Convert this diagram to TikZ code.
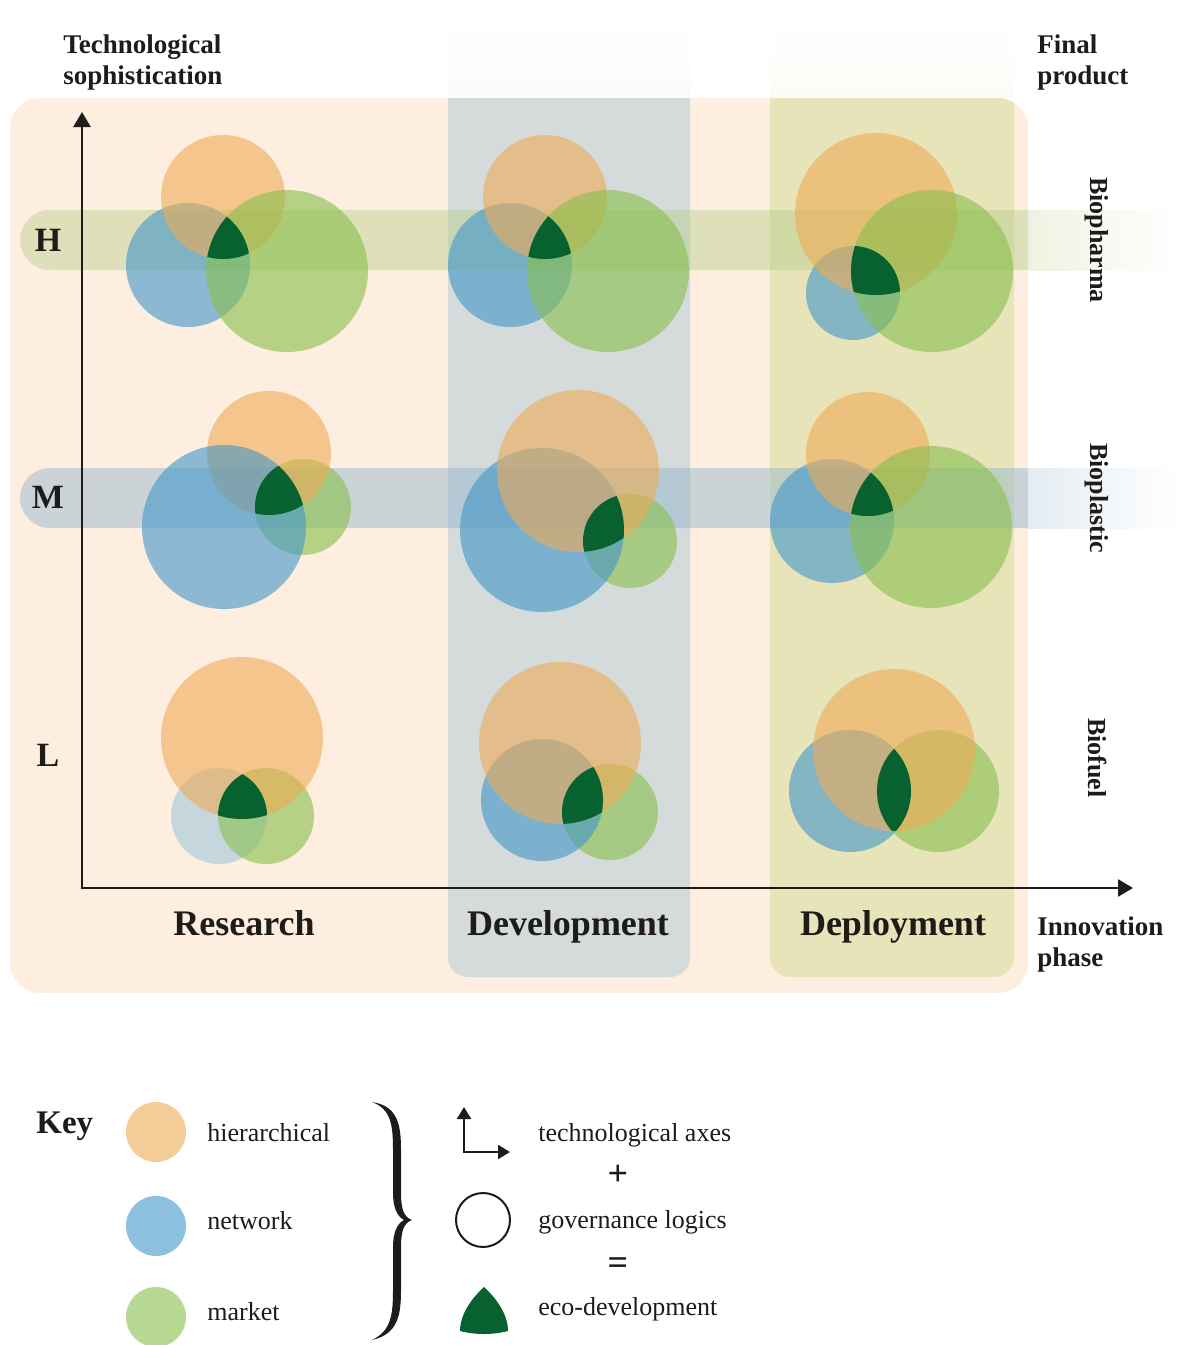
\documentclass[tikz,border=0pt]{standalone}
\usepackage{fontspec}
\setmainfont{Liberation Serif}
\usepackage{tikz}
\usetikzlibrary{arrows.meta, positioning}
\definecolor{peachbg}{HTML}{FDEEDF}
\definecolor{hierorange}{RGB}{238,171,85}
\definecolor{netblue}{RGB}{65,150,201}
\definecolor{netpale}{RGB}{160,198,221}
\definecolor{mktgreen}{RGB}{136,191,76}
\definecolor{ecogreen}{RGB}{8,98,48}
\definecolor{devshade}{RGB}{212,219,218}
\definecolor{depshade}{RGB}{231,228,186}
\definecolor{bandhigh}{RGB}{183,207,138}
\definecolor{bandmid}{RGB}{143,180,204}
\definecolor{inkblack}{RGB}{30,27,25}

% eco-development = overlap of the three governance logics
\newcommand{\ecozone}[6]{%
  \begin{scope}
    \clip (#1) circle (#2);
    \clip (#3) circle (#4);
    \fill[ecofill] (#5) circle (#6);
  \end{scope}}

\begin{document}
\begin{tikzpicture}[
    x=0.5pt, y=0.5pt,
    hierfill/.style={fill=hierorange, fill opacity=0.6},
    netfill/.style={fill=netblue, fill opacity=0.6},
    mktfill/.style={fill=mktgreen, fill opacity=0.6},
    ecofill/.style={fill=ecogreen},
    axis/.style={{Triangle[length=7.5pt,width=8.5pt]}-{Triangle[length=7.5pt,width=8.5pt]},
                 line width=1.3pt, draw=inkblack},
    axislabel/.style={font=\fontsize{13.5}{15.5}\selectfont\bfseries, align=left,
                      anchor=north west, inner sep=0pt, text=inkblack},
    level/.style={font=\fontsize{17}{20}\selectfont\bfseries, text=inkblack},
    product/.style={font=\fontsize{13}{15}\selectfont\bfseries, text=inkblack, rotate=-90},
    phase/.style={font=\fontsize{18}{20}\selectfont\bfseries, text=inkblack, anchor=base},
    keytext/.style={font=\fontsize{13}{15}\selectfont, text=inkblack, anchor=base west, inner sep=0pt},
    keydot/.style={circle, minimum size=30pt, inner sep=0pt, fill opacity=0.6}
]
\useasboundingbox (0,0) rectangle (1179,-1345);

% Background panel and phase columns
\shade[top color=white, bottom color=devshade!12!white] (448,-20) rectangle (690,-98);
\shade[top color=white, bottom color=depshade!12!white] (770,-20) rectangle (1014,-98);
\begin{scope}
  \clip[rounded corners=15pt] (10,-98) rectangle (1028,-993);
  \fill[peachbg] (10,-98) rectangle (1028,-993);
  \fill[devshade, rounded corners=10pt] (448,-60) rectangle (690,-977);
  \fill[depshade, rounded corners=10pt] (770,-60) rectangle (1014,-977);
\end{scope}

% Sophistication bands
\fill[bandhigh, fill opacity=0.45] (1028,-210) -- (50,-210) arc[start angle=90, end angle=270, radius=30] -- (1028,-270) -- cycle;
\shade[left color=bandhigh!25!white, right color=white] (1028,-210) rectangle (1179,-270);
\fill[bandmid, fill opacity=0.45] (1028,-468) -- (50,-468) arc[start angle=90, end angle=270, radius=30] -- (1028,-528) -- cycle;
\shade[left color=bandmid!25!white, right color=white] (1028,-468) rectangle (1179,-528);

% Axes
\coordinate (origin) at (82,-888);
\coordinate (ytop) at (82,-112);
\coordinate (xend) at (1133,-888);
\draw[axis] (ytop) -- (origin) -- (xend);

% H -- biopharma
\fill[netfill] (188,-265) circle (62);
\fill[hierfill] (223,-197) circle (62);
\fill[mktfill] (287,-271) circle (81);
\ecozone{188,-265}{62}{223,-197}{62}{287,-271}{81}

\fill[netfill] (510,-265) circle (62);
\fill[hierfill] (545,-197) circle (62);
\fill[mktfill] (608,-271) circle (81);
\ecozone{510,-265}{62}{545,-197}{62}{608,-271}{81}

\fill[netfill] (853,-293) circle (47);
\fill[hierfill] (876,-214) circle (81);
\fill[mktfill] (932,-271) circle (81);
\ecozone{853,-293}{47}{876,-214}{81}{932,-271}{81}

% M -- bioplastic
\fill[mktfill] (303,-507) circle (48);
\fill[hierfill] (269,-453) circle (62);
\fill[netfill] (224,-527) circle (82);
\ecozone{303,-507}{48}{269,-453}{62}{224,-527}{82}

\fill[mktfill] (630,-541) circle (47);
\fill[netfill] (542,-530) circle (82);
\fill[hierfill] (578,-471) circle (81);
\ecozone{630,-541}{47}{542,-530}{82}{578,-471}{81}

\fill[netfill] (832,-521) circle (62);
\fill[hierfill] (868,-454) circle (62);
\fill[mktfill] (931,-527) circle (81);
\ecozone{832,-521}{62}{868,-454}{62}{931,-527}{81}

% L -- biofuel
\fill[netfill, fill=netpale] (219,-816) circle (48);
\fill[mktfill] (266,-816) circle (48);
\fill[hierfill] (242,-738) circle (81);
\ecozone{219,-816}{48}{266,-816}{48}{242,-738}{81}

\fill[mktfill] (610,-812) circle (48);
\fill[netfill] (542,-800) circle (61);
\fill[hierfill] (560,-743) circle (81);
\ecozone{610,-812}{48}{542,-800}{61}{560,-743}{81}

\fill[netfill] (850,-791) circle (61);
\fill[mktfill] (938,-791) circle (61);
\fill[hierfill] (894,-750) circle (81);
\ecozone{850,-791}{61}{938,-791}{61}{894,-750}{81}

% Labels
\node[axislabel] (soph) at (63,-34) {Technological\\sophistication};
\node[axislabel] (final) at (1037,-34) {Final\\product};
\node[axislabel] (innov) at (1037,-916) {Innovation\\phase};
\node[level] (lvlH) at (48,-240) {H};
\node[level] (lvlM) at (48,-497) {M};
\node[level] (lvlL) at (48,-755) {L};
\node[product] (pharma) at (1097,-240) {Biopharma};
\node[product] (plastic) at (1097,-498) {Bioplastic};
\node[product] (fuel) at (1097,-758) {Biofuel};
\node[phase] (research) at (244,-935) {Research};
\node[phase] (develop) at (568,-935) {Development};
\node[phase] (deploy) at (893,-935) {Deployment};

% Key
\node[keytext, font=\fontsize{16.5}{18}\selectfont\bfseries] (key) at (36,-1133) {Key};
\node[keydot, fill=hierorange] (khier) at (156,-1132) {};
\node[keydot, fill=netblue] (knet) at (156,-1226) {};
\node[keydot, fill=mktgreen] (kmkt) at (156,-1317) {};
\node[keytext] (thier) at (207,-1141) {hierarchical};
\node[keytext] (tnet) at (207,-1229) {network};
\node[keytext] (tmkt) at (207,-1320) {market};

\fill[inkblack] (372,-1102) .. controls (398,-1106) and (401,-1125) .. (401,-1150) -- (401,-1192)
  .. controls (401,-1210) and (404,-1217) .. (412,-1220)
  .. controls (404,-1223) and (401,-1230) .. (401,-1248) -- (401,-1290)
  .. controls (401,-1315) and (398,-1334) .. (372,-1340)
  .. controls (391,-1331) and (393,-1315) .. (393,-1290) -- (393,-1248)
  .. controls (393,-1232) and (397,-1224) .. (404,-1220)
  .. controls (397,-1216) and (393,-1208) .. (393,-1192) -- (393,-1150)
  .. controls (393,-1125) and (391,-1109) .. (372,-1102) -- cycle;

\coordinate (kcorner) at (464,-1152);
\coordinate (kup) at (464,-1107);
\coordinate (kright) at (510,-1152);
\draw[{Triangle[length=6pt,width=7pt]}-{Triangle[length=6pt,width=7pt]}, line width=1.1pt, draw=inkblack]
  (kup) -- (kcorner) -- (kright);
\node[circle, draw=inkblack, line width=1pt, minimum size=27pt, inner sep=0pt] (kgov) at (483,-1220) {};
\fill[ecofill] (484,-1287) .. controls (496,-1298) and (508,-1314) .. (508,-1331)
  .. controls (492,-1335) and (476,-1335) .. (460,-1331)
  .. controls (460,-1314) and (472,-1298) .. (484,-1287) -- cycle;

\node[keytext] (taxes) at (538,-1141) {technological axes};
\node[keytext] (tgov) at (538,-1228) {governance logics};
\node[keytext] (teco) at (538,-1315) {eco-development};
\node[font=\fontsize{18}{20}\selectfont\bfseries, text=inkblack] (plus) at (618,-1175) {+};
\node[font=\fontsize{18}{20}\selectfont\bfseries, text=inkblack] (equals) at (618,-1266) {=};

\end{tikzpicture}
\end{document}
